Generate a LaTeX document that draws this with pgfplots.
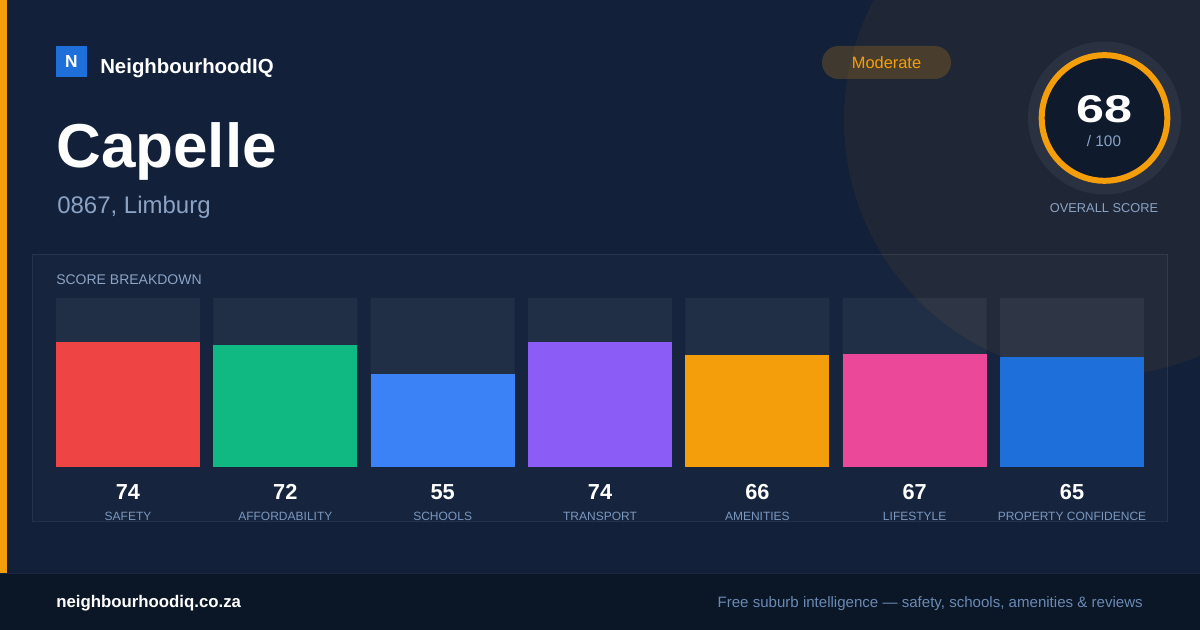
\documentclass[border=0pt]{standalone}
\usepackage{fontspec}
\setmainfont{Liberation Sans}
\usepackage{pgfplots}
\pgfplotsset{compat=1.18}
\definecolor{bg}{HTML}{12203A}
\definecolor{footbg}{HTML}{0B1626}
\definecolor{footline}{HTML}{1A2741}
\definecolor{amber}{HTML}{F59E0B}
\definecolor{logoblue}{HTML}{1E6FD9}
\definecolor{muted}{HTML}{8BA3C5}
\definecolor{catcol}{HTML}{7B98BF}
\definecolor{footmuted}{HTML}{6A8AB4}
\definecolor{gaugein}{HTML}{0F1A2D}
\definecolor{cred}{HTML}{EF4444}
\definecolor{cgreen}{HTML}{10B981}
\definecolor{cblue}{HTML}{3B82F6}
\definecolor{cpurple}{HTML}{8B5CF6}
\definecolor{camber}{HTML}{F59E0B}
\definecolor{cpink}{HTML}{EC4899}
\definecolor{cdblue}{HTML}{1E6FD9}
\begin{document}
\begin{tikzpicture}
\begin{scope}[x=0.75pt,y=-0.75pt]
\fill[bg] (0,0) rectangle (1200,630);
\begin{scope}
\clip (0,0) rectangle (1200,573);
\fill[amber, opacity=0.06] (1100,120) circle[radius=256];
\end{scope}
\fill[amber] (0,0) rectangle (7,573);
\fill[footbg] (0,573) rectangle (1200,630);
\draw[footline, line width=0.75pt] (0,573.5) -- (1200,573.5);
% logo
\fill[logoblue] (56,46) rectangle (87,77);
\node[text=white, inner sep=0pt, font=\bfseries\fontsize{13}{13}\selectfont] at (71.5,61.5) {N};
\node[anchor=base west, inner sep=0pt, text=white, font=\bfseries\fontsize{15.3}{15.3}\selectfont] at (100,74) {NeighbourhoodIQ};
\node[anchor=base west, inner sep=0pt, text=white, font=\bfseries\fontsize{46.5}{46.5}\selectfont] at (56,168) {Capelle};
\node[anchor=base west, inner sep=0pt, text=muted, font=\fontsize{18}{18}\selectfont] at (57,214) {0867, Limburg};
% badge
\fill[amber, opacity=0.2, rounded corners=12.3pt] (822,46) rectangle (951,79);
\node[inner sep=0pt, text=amber, font=\fontsize{12.3}{12.3}\selectfont] at (886.5,62.5) {Moderate};
% gauge
\fill[white, opacity=0.05] (1104.5,118) circle[radius=76.5];
\fill[gaugein] (1104.5,118) circle[radius=61];
\draw[amber, line width=4.5pt] (1104.5,118) circle[radius=62.8];
\node[anchor=base, inner sep=0pt, text=white, font=\bfseries\fontsize{29}{29}\selectfont] at (1104,123) {\scalebox{1.3}[1]{68}};
\node[anchor=base, inner sep=0pt, text=muted, font=\fontsize{11.5}{11.5}\selectfont] at (1104,147) {/ 100};
\node[anchor=base, inner sep=0pt, text=muted, font=\fontsize{9.6}{9.6}\selectfont] at (1104,213) {OVERALL SCORE};
% panel
\filldraw[fill=white, fill opacity=0.02, draw=white, draw opacity=0.08, line width=0.75pt] (32.5,254.5) rectangle (1167.5,521.5);
\node[anchor=base west, inner sep=0pt, text=muted, font=\fontsize{10.5}{10.5}\selectfont] at (56,285) {SCORE BREAKDOWN};
% footer
\node[anchor=base west, inner sep=0pt, text=white, font=\bfseries\fontsize{12.6}{12.6}\selectfont] at (56,608) {neighbourhoodiq.co.za};
\node[anchor=base east, inner sep=0pt, text=footmuted, font=\fontsize{11.3}{11.3}\selectfont] at (1143,608) {Free suburb intelligence — safety, schools, amenities \& reviews};
\end{scope}
\begin{axis}[at={(42pt,-350.25pt)}, anchor=south west, scale only axis,
  width=816pt, height=126.75pt,
  xmin=-0.4576, xmax=6.4576, ymin=0, ymax=100,
  axis line style={draw=none}, major tick length=0pt,
  ytick=\empty, xtick={0,...,6},
  xticklabels={74,72,55,74,66,67,65},
  xticklabel style={anchor=base, yshift=-24.5pt, inner sep=0pt, text=white, font=\bfseries\fontsize{16.3}{16.3}\selectfont},
  clip=false]
\addplot[ybar, bar width=108pt, bar shift=0pt, fill=white, fill opacity=0.05, draw=none] coordinates {(0,100) (1,100) (2,100) (3,100) (4,100) (5,100) (6,100)};
\addplot[ybar, bar width=108pt, bar shift=0pt, fill=cred, draw=none] coordinates {(0,74)};
\addplot[ybar, bar width=108pt, bar shift=0pt, fill=cgreen, draw=none] coordinates {(1,72)};
\addplot[ybar, bar width=108pt, bar shift=0pt, fill=cblue, draw=none] coordinates {(2,55)};
\addplot[ybar, bar width=108pt, bar shift=0pt, fill=cpurple, draw=none] coordinates {(3,74)};
\addplot[ybar, bar width=108pt, bar shift=0pt, fill=camber, draw=none] coordinates {(4,66)};
\addplot[ybar, bar width=108pt, bar shift=0pt, fill=cpink, draw=none] coordinates {(5,67)};
\addplot[ybar, bar width=108pt, bar shift=0pt, fill=cdblue, draw=none] coordinates {(6,65)};
\addplot[draw=none, mark=none, point meta=explicit symbolic, nodes near coords,
  nodes near coords style={anchor=base, yshift=-40.5pt, inner sep=0pt, text=catcol, font=\fontsize{9}{9}\selectfont}]
  coordinates {(0,0) [SAFETY] (1,0) [AFFORDABILITY] (2,0) [SCHOOLS] (3,0) [TRANSPORT] (4,0) [AMENITIES] (5,0) [LIFESTYLE] (6,0) [PROPERTY CONFIDENCE]};
\end{axis}
\begin{scope}[x=0.75pt,y=-0.75pt]
\pgfresetboundingbox
\path[use as bounding box] (0,0) rectangle (1200,630);
\end{scope}
\end{tikzpicture}
\end{document}
